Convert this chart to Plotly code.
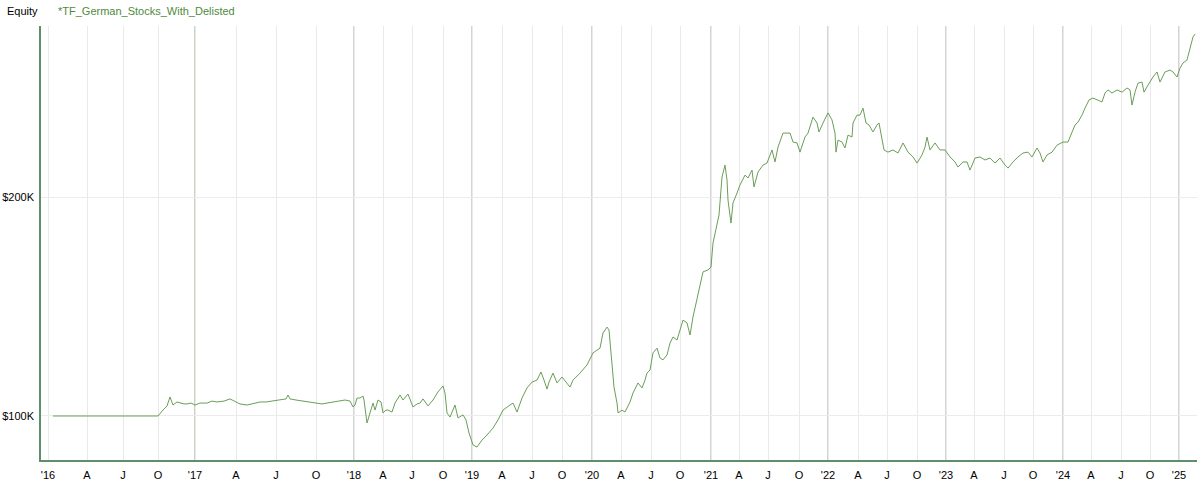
import plotly.graph_objects as go

# bar number (trading-day index) and equity in $K
bar = [
    0, 210, 220, 228, 234, 240, 248, 254, 262, 268, 276, 284, 294, 308, 318, 328,
    342, 354, 364, 374, 388, 400, 414, 426, 440, 454, 466, 470, 474, 486, 500, 514,
    528, 538, 548, 562, 574, 584, 594, 600, 604, 608, 614, 620, 622, 628, 634, 640,
    644, 650, 656, 660, 666, 670, 678, 684, 694, 700, 710, 720, 728, 734, 740, 750,
    760, 770, 780, 784, 788, 794, 804, 810, 820, 826, 832, 840, 848, 858, 868, 880,
    890, 900, 914, 920, 928, 938, 948, 958, 968, 976, 982, 988, 992, 1000, 1008, 1018,
    1026, 1034, 1040, 1054, 1068, 1080, 1088, 1094, 1100, 1108, 1112, 1118, 1122, 1128, 1130, 1138,
    1144, 1154, 1160, 1170, 1178, 1184, 1188, 1194, 1200, 1208, 1214, 1220, 1228, 1234, 1240, 1248,
    1254, 1260, 1268, 1274, 1280, 1288, 1294, 1300, 1310, 1316, 1320, 1328, 1332, 1338, 1344, 1348,
    1350, 1356, 1360, 1368, 1374, 1384, 1390, 1398, 1402, 1410, 1420, 1428, 1438, 1444, 1450, 1460,
    1474, 1480, 1488, 1494, 1504, 1510, 1520, 1528, 1532, 1540, 1550, 1558, 1564, 1566, 1570, 1578,
    1584, 1590, 1598, 1600, 1608, 1614, 1620, 1626, 1632, 1640, 1648, 1652, 1658, 1662, 1670, 1680,
    1690, 1700, 1710, 1720, 1728, 1738, 1744, 1748, 1754, 1764, 1774, 1784, 1794, 1804, 1810, 1820,
    1828, 1834, 1844, 1854, 1864, 1874, 1884, 1894, 1904, 1910, 1920, 1930, 1940, 1950, 1958, 1968,
    1974, 1980, 1988, 1998, 2008, 2020, 2030, 2038, 2044, 2050, 2058, 2064, 2072, 2080, 2090, 2098,
    2104, 2110, 2118, 2128, 2138, 2148, 2154, 2158, 2164, 2170, 2178, 2182, 2190, 2200, 2208, 2214,
    2224, 2234, 2240, 2248, 2254, 2260, 2268, 2274, 2280, 2284,
]
equity_k = [
    100.0, 100.0, 102.7, 104.6, 108.7, 105.0, 106.4, 105.9, 105.5, 105.5, 105.9, 105.0, 105.9, 105.9, 106.8, 106.4,
    106.8, 107.8, 106.8, 105.5, 105.0, 105.5, 106.4, 106.4, 106.8, 107.3, 107.8, 109.6, 107.8, 107.3, 106.8, 106.4,
    105.9, 105.5, 105.9, 106.4, 106.8, 107.3, 106.8, 104.1, 105.0, 108.2, 108.2, 109.1, 107.3, 96.8, 101.4, 105.9,
    102.7, 107.3, 106.4, 101.4, 102.7, 102.7, 101.8, 105.9, 109.6, 107.3, 110.0, 104.1, 105.5, 105.9, 107.8, 104.6,
    107.3, 111.0, 113.7, 110.5, 101.4, 99.5, 105.0, 99.1, 100.5, 98.2, 92.2, 86.8, 85.8, 89.0, 91.3, 94.5,
    98.2, 102.7, 105.0, 105.9, 101.8, 108.2, 112.8, 115.5, 116.4, 120.1, 116.4, 112.3, 115.5, 119.6, 115.1, 117.8,
    115.5, 113.2, 116.4, 119.6, 123.3, 128.8, 130.1, 131.0, 137.9, 140.6, 139.3, 124.2, 113.2, 105.9, 101.4, 102.7,
    101.8, 106.4, 110.5, 115.1, 112.8, 116.4, 119.6, 121.0, 128.8, 131.0, 126.5, 125.6, 127.9, 133.3, 136.1, 134.7,
    139.3, 143.8, 142.5, 137.0, 145.2, 153.0, 158.9, 165.8, 166.7, 168.0, 179.0, 188.6, 191.8, 209.1, 214.6, 207.8,
    198.6, 188.1, 197.3, 201.8, 205.5, 210.0, 208.7, 212.3, 204.6, 211.4, 214.6, 215.5, 221.5, 216.0, 222.8, 229.2,
    229.2, 225.1, 224.7, 220.5, 227.4, 229.2, 236.5, 233.8, 229.7, 233.8, 238.4, 235.2, 229.2, 220.5, 226.0, 225.1,
    222.4, 228.3, 227.4, 233.8, 237.4, 237.4, 240.6, 233.8, 232.9, 229.7, 232.9, 233.8, 226.9, 221.5, 220.5, 221.5,
    220.1, 224.7, 220.5, 218.3, 215.5, 219.2, 222.8, 227.4, 221.5, 224.7, 221.5, 221.5, 218.3, 216.0, 213.7, 216.0,
    216.0, 212.3, 217.8, 218.3, 216.9, 217.8, 215.5, 217.8, 214.6, 213.2, 216.0, 218.3, 220.1, 220.5, 218.3, 222.4,
    220.1, 216.0, 219.2, 220.5, 223.7, 225.1, 225.1, 229.2, 232.9, 234.2, 237.4, 240.6, 244.3, 245.2, 244.3, 243.4,
    247.5, 248.9, 247.5, 248.9, 247.9, 249.8, 248.9, 242.0, 247.9, 252.0, 252.5, 247.9, 251.1, 254.8, 257.1, 252.5,
    257.1, 258.0, 257.1, 254.8, 258.9, 261.2, 262.6, 268.5, 273.1, 274.4,
]

# month ticks (bar number of the first bar of each quarter)
month_bars = [
    -10, 68, 140, 210, 284, 366, 446, 526, 602, 660, 718, 780, 838, 898, 958, 1018,
    1078, 1136, 1196, 1254, 1316, 1372, 1430, 1492, 1550, 1610, 1668, 1728, 1786, 1842, 1902, 1960,
    2020, 2076, 2136, 2194, 2252,
]
month_labels = [
    "'16", "A", "J", "O", "'17", "A", "J", "O", "'18", "A", "J", "O", "'19", "A", "J", "O",
    "'20", "A", "J", "O", "'21", "A", "J", "O", "'22", "A", "J", "O", "'23", "A", "J", "O",
    "'24", "A", "J", "O", "'25",
]

FONT = "Arial, Liberation Sans, sans-serif"
LINE_GREEN = "#6a9e58"
AXIS_GREEN = "#5f8f6a"

W, H = 1200, 491
ML, MR, MT, MB = 41, 3, 26, 31

fig = go.Figure()
fig.add_trace(go.Scatter(
    x=bar,
    y=[v * 1000 for v in equity_k],
    mode="lines",
    line=dict(color=LINE_GREEN, width=1),
    hoverinfo="skip",
))

# darker year separators on top of the light month grid
for b, lab in zip(month_bars, month_labels):
    if lab.startswith("'") and b > 0:
        fig.add_vline(
            x=b,
            line_color="#b4c6ad" if lab == "'17" else "#a9a9a9",
            line_width=1.5 if lab == "'17" else 1,
            layer="below",
        )


def px_x(x):
    return (x - ML) / (W - ML - MR)


def px_y(y):
    return 1 + (MT - y) / (H - MT - MB)


fig.update_layout(
    width=W,
    height=H,
    margin=dict(l=ML, r=MR, t=MT, b=MB, autoexpand=False),
    paper_bgcolor="white",
    plot_bgcolor="white",
    showlegend=False,
    font=dict(family=FONT, size=11, color="#000"),
    annotations=[
        dict(text="Equity", x=px_x(5), y=px_y(11), xref="paper", yref="paper", showarrow=False,
             xanchor="left", yanchor="middle", font=dict(size=11, color="#000")),
        dict(text="*TF_German_Stocks_With_Delisted", x=px_x(56), y=px_y(11), xref="paper", yref="paper",
             showarrow=False, xanchor="left", yanchor="middle",
             font=dict(size=11, color="#4f8a3c")),
    ],
)

fig.update_xaxes(
    range=[-24, 2288],
    tickvals=month_bars,
    ticktext=month_labels,
    showgrid=True,
    gridcolor="#e9e9e9",
    gridwidth=1,
    zeroline=False,
    showline=True,
    linecolor=AXIS_GREEN,
    linewidth=1.5,
    ticks="",
    automargin=False,
    ticklabelstandoff=4,
    tickfont=dict(size=11, color="#000"),
)
fig.update_yaxes(
    range=[79900, 278100],
    tickvals=[100000, 200000],
    ticktext=["$100K", "$200K"],
    showgrid=True,
    gridcolor="#ececec",
    zeroline=False,
    showline=True,
    linecolor=AXIS_GREEN,
    linewidth=1.5,
    ticks="",
    automargin=False,
    ticklabelstandoff=3,
    tickfont=dict(size=11, color="#000"),
)

# drop the browser's default body margin so the figure sits at the page corner
fig.write_html(
    "out.html",
    config={"displayModeBar": False},
    post_script="document.body.style.margin = '0';",
)
